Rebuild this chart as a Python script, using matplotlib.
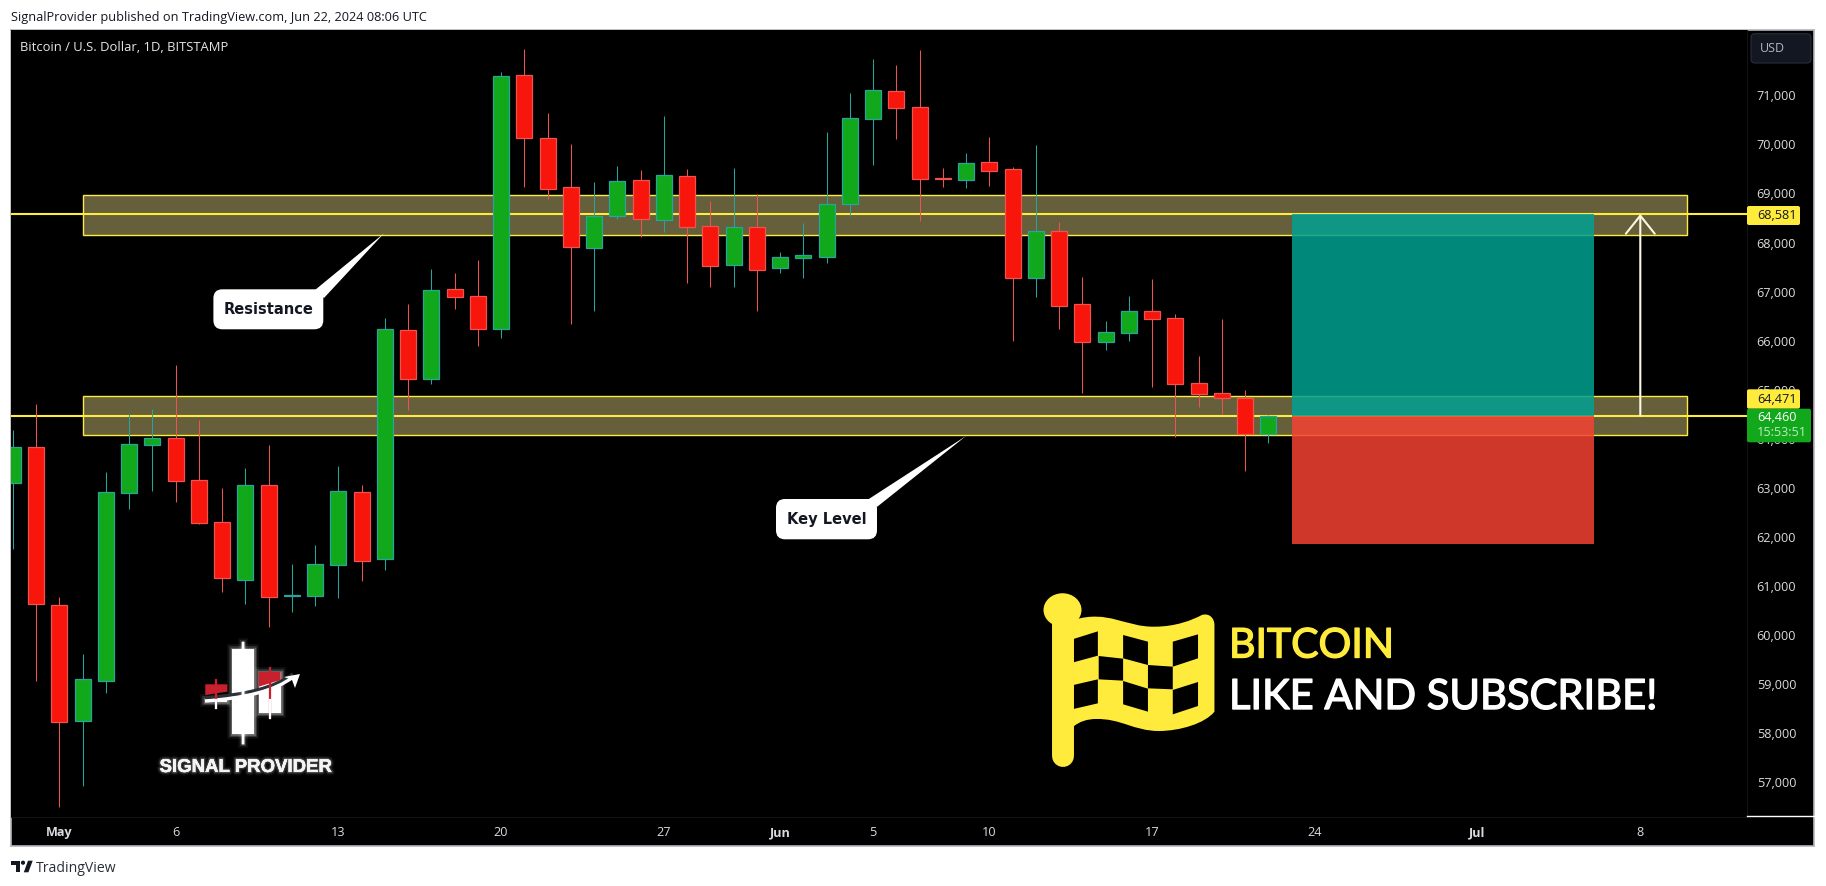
"""Bitcoin daily candles with key levels, redrawn from a TradingView snapshot."""
import matplotlib

matplotlib.use("Agg")
import matplotlib.patheffects as pe
import matplotlib.pyplot as plt
import numpy as np
from matplotlib.path import Path
from matplotlib.patches import Ellipse, FancyBboxPatch, PathPatch, Polygon, Rectangle

# days counted from May 1 2024
days = np.arange(-2, 53)
opens = [63093, 63826, 60606, 58254, 59057, 62889, 63879, 64010, 63154, 62298, 61128, 63052, 60790, 60802, 61434,
         62909, 61544, 66211, 65224, 67052, 66904, 66231, 71408, 70124, 69125, 67894, 68534, 69268, 68452, 69349,
         68330, 67548, 68310, 67487, 67690, 67711, 68779, 70523, 71082, 70755, 69315, 69280, 69635, 69492, 67283,
         68228, 66741, 65978, 66162, 66598, 66455, 65131, 64927, 64825, 64091]
closes = [63826, 60627, 58234, 59098, 62909, 63887, 64010, 63146, 62290, 61169, 63052, 60781, 60810, 61442, 62930,
          61515, 66231, 65224, 67026, 66895, 66243, 71387, 70124, 69096, 67914, 68534, 69247, 68473, 69370, 68310,
          67527, 68310, 67446, 67698, 67739, 68779, 70531, 71102, 70747, 69300, 69300, 69614, 69463, 67283, 68228,
          66712, 65978, 66170, 66598, 66447, 65122, 64919, 64825, 64091, 64460]
highs = [64179, 64703, 60769, 59614, 63323, 64499, 64601, 65504, 64383, 62997, 63404, 63873, 61442, 61835, 63445,
         63058, 66461, 66747, 67460, 67378, 67643, 71475, 71937, 70639, 70007, 69233, 69559, 69478, 70578, 69498,
         68846, 69518, 68988, 67806, 68391, 70252, 71047, 71740, 71618, 71923, 69518, 69818, 70150, 69539, 69987,
         68418, 67297, 66400, 66910, 67256, 66543, 65687, 66441, 64994, 64484]
lows = [61760, 59070, 56502, 56930, 58825, 62575, 62942, 62718, 62263, 60877, 60633, 60170, 60476, 60598, 60761,
        61101, 61326, 64586, 65116, 66645, 65897, 66060, 69137, 68880, 66345, 66610, 68479, 68118, 68220, 67181,
        67099, 67099, 66610, 67385, 67283, 67588, 68546, 69586, 70116, 68444, 69137, 69117, 69158, 65999, 66895,
        66237, 64939, 65815, 65999, 65061, 64030, 64654, 64511, 63349, 63920]

price_ticks = np.arange(57000, 72000, 1000)
date_ticks = [0, 5, 12, 19, 26, 31, 35, 40, 47, 54, 61, 68]
date_labels = ["May", "6", "13", "20", "27", "Jun", "5", "10", "17", "24", "Jul", "8"]

resistance_level = 68581
key_level = 64471
last_price = 64460
resistance_zone = (68159, 68962)
key_zone = (64071, 64866)
zone_days = (1, 70)
trade_days = (53, 66)
stop_price = 61860
arrow_day = 68

W, H = 1826, 886
FONT = "Open Sans"
YELLOW = "#FFEB3B"
GREEN = "#12A81C"
RED = "#F7150C"
LOGO_RED = "#C8202D"

plt.rcParams["font.family"] = [FONT, "DejaVu Sans"]

fig = plt.figure(figsize=(W / 100, H / 100), dpi=100, facecolor="white")


def fig_box(left, top, right, bottom):
    return [left / W, 1 - bottom / H, (right - left) / W, (bottom - top) / H]


# black panel with the grey frame
panel = fig.add_axes(fig_box(11, 30, 1814, 846), facecolor="black", zorder=0)
panel.set_xticks([])
panel.set_yticks([])
for spine in panel.spines.values():
    spine.set_color("#B4B6BC")
    spine.set_linewidth(1.2)

ax = fig.add_axes(fig_box(11, 30, 1747, 816.7), facecolor="black", zorder=1)
ax.set_xlim((11 - 59.3) / 23.25, (1747 - 59.3) / 23.25)
ax.set_ylim(56298, 72331)
for name, spine in ax.spines.items():
    spine.set_visible(name in ("right", "bottom"))
    spine.set_color("#141414")
    spine.set_linewidth(0.7)

ax.yaxis.tick_right()
ax.set_yticks(price_ticks)
ax.yaxis.set_major_formatter(matplotlib.ticker.StrMethodFormatter("{x:,.0f}"))
ax.set_xticks(date_ticks)
ax.set_xticklabels(date_labels)
ax.tick_params(axis="both", length=0, colors="#DADBDE", labelsize=9.1)
ax.tick_params(axis="y", pad=7)
ax.tick_params(axis="x", pad=7)
for label in ax.get_xticklabels():
    if label.get_text() in ("May", "Jun", "Jul"):
        label.set_fontweight("bold")

# zones and levels
for low, high in (resistance_zone, key_zone):
    ax.add_patch(Rectangle((zone_days[0], low), zone_days[1] - zone_days[0], high - low,
                           facecolor="#665F3C", edgecolor=YELLOW, linewidth=1.0, zorder=1))
for level in (resistance_level, key_level):
    ax.axhline(level, color=YELLOW, linewidth=1.5, zorder=2)

# candles
opens = np.array(opens)
closes = np.array(closes)
up = closes >= opens
ax.vlines(days[up], np.array(lows)[up], np.array(highs)[up], color="#26A69A", linewidth=0.75, zorder=3)
ax.vlines(days[~up], np.array(lows)[~up], np.array(highs)[~up], color="#EF5350", linewidth=0.75, zorder=3)
ax.bar(days[up], (closes - opens)[up], bottom=opens[up], width=0.69, color=GREEN,
       edgecolor="#26A69A", linewidth=0.9, zorder=4)
ax.bar(days[~up], (closes - opens)[~up], bottom=opens[~up], width=0.69, color=RED,
       edgecolor="#EF5350", linewidth=0.9, zorder=4)

# long position tool
trade_width = trade_days[1] - trade_days[0]
ax.add_patch(Rectangle((trade_days[0], key_level), trade_width, resistance_level - key_level,
                       facecolor="#00A191", alpha=0.85, linewidth=0, zorder=5))
ax.add_patch(Rectangle((trade_days[0], stop_price), trade_width, key_level - stop_price,
                       facecolor="#F54233", alpha=0.85, linewidth=0, zorder=5))
ax.annotate("", xy=(arrow_day, resistance_level), xytext=(arrow_day, key_level),
            arrowprops=dict(arrowstyle="->,head_length=0.5,head_width=0.4", color="#FFF8E1", lw=1.5,
                            mutation_scale=26, shrinkA=0, shrinkB=0), zorder=6)

# everything below is placed in picture pixels
over = fig.add_axes([0, 0, 1, 1], zorder=2)
over.set_xlim(0, W)
over.set_ylim(H, 0)
over.axis("off")
over.patch.set_alpha(0)

over.text(11, 17.5, "SignalProvider published on TradingView.com, Jun 22, 2024 08:06 UTC",
          fontsize=9.2, color="#131722", va="center")
over.text(20, 47.5, "Bitcoin / U.S. Dollar, 1D, BITSTAMP", fontsize=9.4, color="#E6E6E6", va="center")

# price scale tags
over.add_patch(FancyBboxPatch((1751, 33.7), 60, 29.3, boxstyle="round,pad=0,rounding_size=4",
                              facecolor="#131722", edgecolor="#2A2E39", linewidth=0.8))
over.text(1772, 48.5, "USD", fontsize=9, color="#B2B5BE", ha="center", va="center")
for top, bottom, value in ((206, 225, resistance_level), (389.3, 408.7, key_level)):
    over.add_patch(FancyBboxPatch((1747, top), 53, bottom - top, boxstyle="round,pad=0,rounding_size=2",
                                  facecolor=YELLOW, linewidth=0))
    over.text(1757, (top + bottom) / 2, f"{value:,}", fontsize=9.1, color="#131722", va="center")
over.add_patch(FancyBboxPatch((1747, 408.7), 64, 33.6, boxstyle="round,pad=0,rounding_size=2",
                              facecolor=GREEN, linewidth=0))
over.text(1757, 417.5, f"{last_price:,}", fontsize=9.1, color="white", va="center")
over.text(1757, 432.5, "15:53:51", fontsize=9.1, color="#BFE8C2", va="center")
over.plot([1747, 1815], [815.5, 815.5], color="white", linewidth=1.0)


# callouts
def callout(left, top, right, bottom, tip, base, text):
    over.add_patch(Polygon([tip, base[0], base[1]], closed=True, facecolor="white", linewidth=0))
    over.add_patch(FancyBboxPatch((left, top), right - left, bottom - top,
                                  boxstyle="round,pad=0,rounding_size=9", facecolor="white", linewidth=0))
    over.text((left + right) / 2, (top + bottom) / 2, text, fontsize=10.5, fontweight="bold",
              color="#131722", ha="center", va="center", family="DejaVu Sans")


callout(213.4, 289.3, 323.3, 329.3, (384, 233.3), ((315, 290), (324, 298)), "Resistance")
callout(776, 499, 877, 539.3, (966, 436), ((867.3, 500), (877.3, 506.7)), "Key Level")


# flag logo, points read in a 2.376 x 3 zoom of the picture
def fp(x, y):
    return 1020 + x / 2.376, 570 + y / 3


over.add_patch(Ellipse(fp(101, 120), 38, 33.5, facecolor=YELLOW, linewidth=0))
over.plot([1062.5, 1062.5], [615, 755.5], color=YELLOW, linewidth=15.8, solid_capstyle="round")
flag_pts = [(127, 150), (210, 118), (250, 172), (320, 170), (370, 170), (410, 150), (432, 135),
            (450, 128), (462, 145), (462, 165), (462, 250), (462, 340), (462, 425),
            (440, 460), (380, 483), (330, 483), (270, 483), (240, 445), (180, 447),
            (160, 447), (140, 455), (127, 470)]
flag_codes = [Path.MOVETO] + [Path.CURVE4] * (len(flag_pts) - 1)
flag_verts = [fp(*p) for p in flag_pts] + [fp(127, 150)]
over.add_patch(PathPatch(Path(flag_verts, flag_codes + [Path.CLOSEPOLY]), facecolor=YELLOW, linewidth=0))
flag_cells = [
    [(127, 207), (185, 184), (185, 257), (127, 277)],
    [(245, 195), (304, 215), (304, 285), (245, 265)],
    [(363, 215), (423, 193), (423, 265), (363, 290)],
    [(187, 258), (245, 266), (245, 332), (187, 328)],
    [(304, 285), (363, 290), (363, 358), (304, 355)],
    [(127, 345), (185, 328), (185, 400), (127, 417)],
    [(245, 333), (304, 356), (304, 425), (245, 403)],
    [(363, 360), (423, 336), (423, 408), (363, 433)],
]
for cell in flag_cells:
    over.add_patch(Polygon([fp(*p) for p in cell], closed=True, facecolor="black", linewidth=0))

over.text(1229, 646, "BITCOIN", fontsize=29.5, color=YELLOW, va="center", family="Lato",
          path_effects=[pe.withStroke(linewidth=1.0, foreground=YELLOW)])
over.text(1229, 697, "LIKE AND SUBSCRIBE!", fontsize=30, color="white", va="center", family="Lato",
          path_effects=[pe.withStroke(linewidth=1.0, foreground="white")])

# Signal Provider logo
glow = [pe.withStroke(linewidth=7, foreground="white", alpha=0.06),
        pe.withStroke(linewidth=4.5, foreground="white", alpha=0.12),
        pe.withStroke(linewidth=2.5, foreground="white", alpha=0.25),
        pe.Normal()]
text_glow = [pe.withStroke(linewidth=5, foreground="white", alpha=0.05),
             pe.withStroke(linewidth=3, foreground="white", alpha=0.1),
             pe.withStroke(linewidth=1.5, foreground="white", alpha=0.18),
             pe.Normal()]


def logo_rect(left, top, right, bottom, color):
    over.add_patch(Rectangle((left, top), right - left, bottom - top, facecolor=color, linewidth=0,
                             path_effects=glow))


def logo_red(points):
    over.add_patch(Polygon(points, closed=True, facecolor=LOGO_RED, linewidth=0))


over.plot([243, 243], [642.5, 742.5], color="white", linewidth=1.6, path_effects=glow)
over.plot([269.7, 269.7], [668, 718], color=LOGO_RED, linewidth=1.6)
over.plot([269.7, 269.7], [700, 718], color="white", linewidth=1.6)
over.plot([216.3, 216.3], [680, 707.5], color=LOGO_RED, linewidth=1.6)
over.plot([216.3, 216.3], [700, 707.5], color="white", linewidth=1.6)
logo_rect(232.3, 649, 254, 734.3, "white")
logo_rect(258.7, 672, 280.7, 712.7, "white")
logo_red([(258.7, 672), (280.7, 672), (280.7, 680), (258.7, 686.7)])
logo_red([(205.3, 684.3), (227.3, 684.3), (227.3, 691.7), (205.3, 695)])
logo_rect(205.3, 699, 227.3, 702.3, "white")
swoosh_gap = Path([(205, 698), (245, 695), (275, 688), (293, 674)], [Path.MOVETO, Path.CURVE4, Path.CURVE4, Path.CURVE4])
swoosh = Path([(205, 701), (245, 698), (275, 691), (293, 677)], [Path.MOVETO, Path.CURVE4, Path.CURVE4, Path.CURVE4])
over.add_patch(PathPatch(swoosh_gap, facecolor="none", edgecolor="#2B2F36", linewidth=2.6))
over.add_patch(PathPatch(swoosh, facecolor="none", edgecolor="white", linewidth=2.4))
over.add_patch(Polygon([(300, 674), (284, 677), (292, 680), (295, 688)], closed=True, facecolor="white", linewidth=0))
over.text(245.8, 767.5, "SIGNAL PROVIDER", fontsize=13.4, fontweight="bold", color="#F4F4F4", ha="center",
          va="center", family="Liberation Sans", path_effects=text_glow)

# footer
over.add_patch(Polygon([(11, 860.7), (20, 860.7), (20, 872.3), (15.7, 872.3), (15.7, 864.7), (11, 864.7)],
                       closed=True, facecolor="#131722", linewidth=0))
over.add_patch(Ellipse((23, 862.7), 4.2, 4.2, facecolor="#131722", linewidth=0))
over.add_patch(Polygon([(28, 860.7), (32.7, 860.7), (28.4, 872.3), (23.8, 872.3)], closed=True,
                       facecolor="#131722", linewidth=0))
over.text(36, 868, "TradingView", fontsize=10.1, color="#2A2E39", va="center")

fig.savefig("out.png", dpi=100, facecolor=fig.get_facecolor())
